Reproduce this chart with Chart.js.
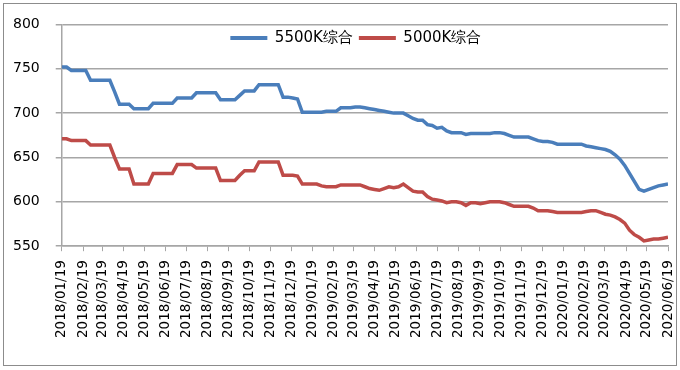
<!DOCTYPE html>
<html>
<head>
<meta charset="utf-8">
<script src="https://cdn.jsdelivr.net/npm/chart.js@4.4.1/dist/chart.umd.min.js"></script>
<style>
  body { margin: 0; background: #fff; }
  #wrap { position: absolute; left: 0; top: 0; width: 680px; height: 370px; }
  #frame {
    position: absolute; left: 3px; top: 3px;
    width: 672px; height: 361px;
    border: 1px solid #8c8c8c;
    pointer-events: none;
  }
</style>
</head>
<body>
<div id="wrap"><canvas id="price-chart"></canvas></div>
<div id="frame"></div>
<script>
// weekly prices (every Friday) starting 2018/01/19
const startDate = Date.UTC(2018, 0, 19);
const weekDays = 7;

const monthLabels = [
  "2018/01/19", "2018/02/19", "2018/03/19", "2018/04/19", "2018/05/19", "2018/06/19",
  "2018/07/19", "2018/08/19", "2018/09/19", "2018/10/19", "2018/11/19", "2018/12/19",
  "2019/01/19", "2019/02/19", "2019/03/19", "2019/04/19", "2019/05/19", "2019/06/19",
  "2019/07/19", "2019/08/19", "2019/09/19", "2019/10/19", "2019/11/19", "2019/12/19",
  "2020/01/19", "2020/02/19", "2020/03/19", "2020/04/19", "2020/05/19", "2020/06/19",
];

const seriesNames = ["5500K综合", "5000K综合"];

const price5500 = [
  752, 752, 748, 748, 748, 748, 737, 737, 737, 737, 737, 724, 710, 710, 710, 705,
  705, 705, 705, 711, 711, 711, 711, 711, 717, 717, 717, 717, 723, 723, 723, 723,
  723, 715, 715, 715, 715, 720, 725, 725, 725, 732, 732, 732, 732, 732, 718, 718,
  717, 716, 701, 701, 701, 701, 701, 702, 702, 702, 706, 706, 706, 707, 707, 706,
  705, 704, 703, 702, 701, 700, 700, 700, 697, 694, 692, 692, 687, 686, 683, 684,
  680, 678, 678, 678, 676, 677, 677, 677, 677, 677, 678, 678, 677, 675, 673, 673,
  673, 673, 671, 669, 668, 668, 667, 665, 665, 665, 665, 665, 665, 663, 662, 661,
  660, 659, 657, 653, 648, 641, 632, 623, 614, 612, 614, 616, 618, 619, 620,
];

const price5000 = [
  671, 671, 669, 669, 669, 669, 664, 664, 664, 664, 664, 650, 637, 637, 637, 620,
  620, 620, 620, 632, 632, 632, 632, 632, 642, 642, 642, 642, 638, 638, 638, 638,
  638, 624, 624, 624, 624, 630, 635, 635, 635, 645, 645, 645, 645, 645, 630, 630,
  630, 629, 620, 620, 620, 620, 618, 617, 617, 617, 619, 619, 619, 619, 619, 617,
  615, 614, 613, 615, 617, 616, 617, 620, 616, 612, 611, 611, 606, 603, 602, 601,
  599, 600, 600, 599, 596, 599, 599, 598, 599, 600, 600, 600, 599, 597, 595, 595,
  595, 595, 593, 590, 590, 590, 589, 588, 588, 588, 588, 588, 588, 589, 590, 590,
  588, 586, 585, 583, 580, 576, 568, 563, 560, 556, 557, 558, 558, 559, 560,
];

const colors = ["#4a7ebb", "#be4b48"];
const gridColor = "#a6a6a6";

// day offset of each month tick from the start date
const monthOffsets = monthLabels.map((s) => {
  const [y, m, d] = s.split("/").map(Number);
  return Math.round((Date.UTC(y, m - 1, d) - startDate) / 86400000);
});

function toPoints(values) {
  return values.map((v, i) => ({ x: i * weekDays, y: v }));
}

// legend sits inside the plot: take no layout height, then restore it for drawing
const flatLegend = {
  id: "flatLegend",
  beforeLayout(chart) {
    const legend = chart.legend;
    if (!legend || legend._flat) return;
    const fit = legend.fit;
    legend.fit = function () {
      fit.call(this);
      this._realHeight = this.height;
      this.height = 0;
    };
    legend._flat = true;
  },
  afterLayout(chart) {
    const legend = chart.legend;
    if (!legend || !legend._realHeight) return;
    legend.height = legend._realHeight;
    legend.bottom = legend.top + legend._realHeight;
    legend.left -= 9;
    legend.right -= 9;
  },
};

const config = {
  type: "line",
  data: {
    datasets: [price5500, price5000].map((values, k) => ({
      label: seriesNames[k],
      data: toPoints(values),
      borderColor: colors[k],
      backgroundColor: colors[k],
      borderWidth: 3.5,
      pointRadius: 0,
      tension: 0,
    })),
  },
  options: {
    responsive: true,
    maintainAspectRatio: false,
    animation: false,
    layout: { padding: { left: -3, top: 22, right: 0, bottom: 23 } },
    plugins: {
      tooltip: { enabled: false },
      legend: {
        position: "top",
        fullSize: false,
        align: "center",
        labels: {
          boxWidth: 37,
          boxHeight: 4,
          padding: 6,
          color: "#000",
          font: { family: "DejaVu Sans", size: 15 },
          generateLabels(chart) {
            return Chart.defaults.plugins.legend.labels
              .generateLabels(chart)
              .map((item) => ({ ...item, lineWidth: 0 }));
          },
        },
      },
    },
    scales: {
      x: {
        type: "linear",
        min: 0,
        max: monthOffsets[monthOffsets.length - 1],
        afterBuildTicks(scale) {
          scale.ticks = monthOffsets.map((v) => ({ value: v }));
        },
        afterFit(scale) {
          scale.paddingRight = 12;
        },
        grid: {
          drawOnChartArea: false,
          color: gridColor,
          lineWidth: 1,
          tickLength: 5,
        },
        border: { color: gridColor, width: 1.5 },
        ticks: {
          autoSkip: false,
          minRotation: 90,
          maxRotation: 90,
          padding: 9,
          color: "#000",
          font: { family: "DejaVu Sans", size: 13.5 },
          callback(value) {
            const i = monthOffsets.indexOf(value);
            return i >= 0 ? monthLabels[i] : "";
          },
        },
      },
      y: {
        min: 550,
        max: 800,
        grid: {
          color: gridColor,
          lineWidth: 1.5,
          tickLength: 6,
        },
        border: { color: gridColor, width: 1.5 },
        ticks: {
          stepSize: 50,
          padding: 16,
          color: "#000",
          font: { family: "DejaVu Sans", size: 14 },
        },
      },
    },
  },
  plugins: [flatLegend],
};

new Chart(document.getElementById("price-chart"), config);
</script>
</body>
</html>
